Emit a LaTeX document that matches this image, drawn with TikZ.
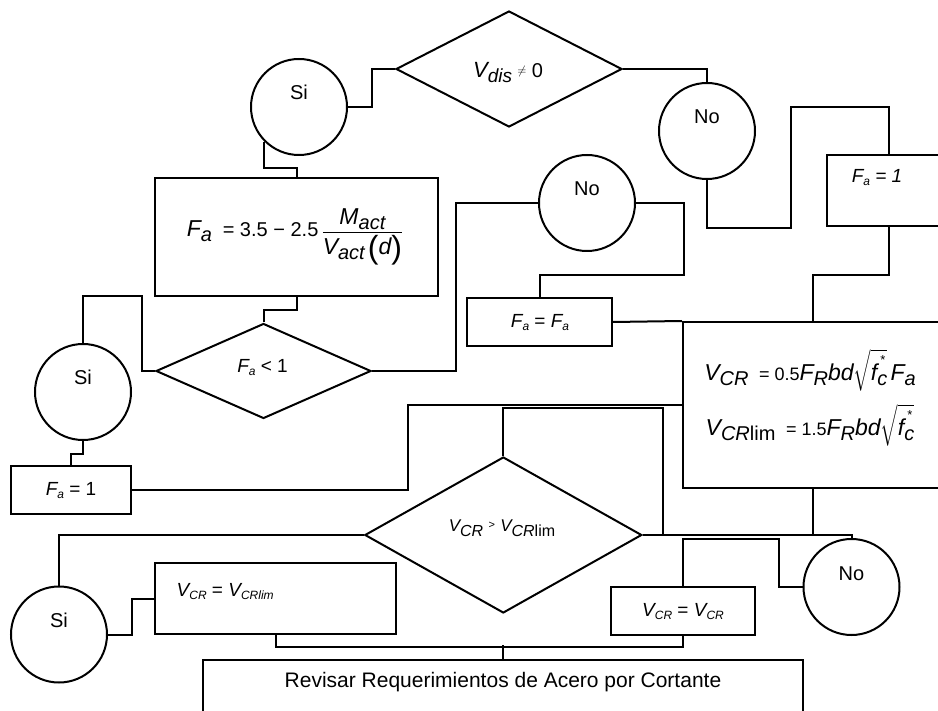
\documentclass[tikz,border=0pt]{standalone}
\usepackage{amsmath}
\usepackage{fontspec}
\setmainfont{Liberation Sans}
\usetikzlibrary{shapes.geometric}
% big variable with big lowered subscript
\newcommand\bigv[2]{{\fontsize{23}{26}\selectfont\itshape #1}\raisebox{-5pt}{\fontsize{20}{22}\selectfont\itshape #2}}
% small variable with small subscript
\newcommand\smv[2]{{\fontsize{19}{22}\selectfont\itshape #1}\raisebox{-3pt}{\fontsize{12}{14}\selectfont\itshape #2}}
\newcommand\numf{\fontsize{18}{20}\selectfont}
\newcommand\fcstar{$\sqrt{\hbox{{\fontsize{23}{26}\selectfont\itshape f}\raisebox{-5pt}{\fontsize{20}{22}\selectfont\itshape c}\llap{\raisebox{16pt}{\fontsize{13}{14}\selectfont *}\hspace{2pt}}}}$}
\newcommand\bpar[1]{\raisebox{-4pt}{\fontsize{32}{34}\selectfont #1}}
\tikzset{
  ln/.style={line width=2pt},
  circ/.style={draw, circle, line width=2pt, minimum size=96pt, inner sep=0pt, font=\fontsize{20}{24}\selectfont},
  dia/.style={draw, diamond, line width=2pt, inner sep=0pt},
  box/.style={draw, rectangle, line width=2pt, inner sep=0pt},
  txt/.style={inner sep=0pt, font=\fontsize{19}{22}\selectfont}
}
\begin{document}
\begin{tikzpicture}[x=1pt,y=-1pt]
\useasboundingbox (0,0) rectangle (938,711);
\clip (0,0) rectangle (938,711);
% circles
\node[circ] (c1) at (299,107) {\raisebox{7pt}[0pt][0pt]{Si}};
\node[circ] (c2) at (707,131) {\raisebox{7pt}[0pt][0pt]{No}};
\node[circ] (c3) at (587,203) {\raisebox{7pt}[0pt][0pt]{No}};
\node[circ] (c4) at (83,392) {\raisebox{7pt}[0pt][0pt]{Si}};
\node[circ] (c5) at (59,634.5) {\raisebox{7pt}[0pt][0pt]{Si}};
\node[circ] (c6) at (851.5,587) {\raisebox{7pt}[0pt][0pt]{No}};
% diamonds
\node[dia, minimum width=226pt, minimum height=116pt] (d1) at (509,69) {};
\node[dia, minimum width=215pt, minimum height=95pt] (d2) at (263.5,371) {};
\node[dia, minimum width=277pt, minimum height=156pt] (d3) at (503.3,535) {};
% boxes
\node[box, minimum width=283pt, minimum height=118pt] (b1) at (296.5,237) {};
\node[box, minimum width=123pt, minimum height=71pt] (b2) at (888.5,190.5) {};
\node[box, minimum width=145pt, minimum height=48pt] (b3) at (539.5,322) {};
\node[box, minimum width=260pt, minimum height=165.7pt] (b4) at (813,404.85) {};
\node[box, minimum width=120pt, minimum height=48pt] (b5) at (71,490) {};
\node[box, minimum width=241pt, minimum height=71pt] (b6) at (275.5,598.5) {};
\node[box, minimum width=144pt, minimum height=48pt] (b7) at (683,611) {};
\node[box, minimum width=600pt, minimum height=100pt] (b8) at (503.3,710) {};
% texts
\node[txt] (t1) at (508,73) {{\fontsize{22}{24}\selectfont\itshape V}\raisebox{-5pt}{\fontsize{19}{22}\selectfont\itshape dis}\ \raisebox{3pt}{\fontsize{13}{14}\selectfont $\neq$}\ {\fontsize{20}{22}\selectfont 0}};
\node[txt] (t2) at (295,237) {\bigv{F}{a}\ {\fontsize{20}{22}\selectfont\ =\ 3.5\ −\ 2.5}\,${\displaystyle\frac{\hbox{\bigv{M}{act}}}{\hbox{\bigv{V}{act}\,\bpar{(}{\fontsize{23}{26}\selectfont\itshape d}\bpar{)}}}}$};
\node[txt] (t3) at (262.5,368) {\smv{F}{a} < 1};
\node[txt] (t4) at (877,178) {\smv{F}{a}{\fontsize{19}{22}\selectfont\itshape\ = 1}};
\node[txt] (t5) at (540,323) {\smv{F}{a}\ =\ \smv{F}{a}};
\node[txt] (t6) at (71,491) {\smv{F}{a}\ = 1};
\node[txt] (t7) at (810,370) {\bigv{V}{CR}\ \ {\numf =\ 0.5}\bigv{F}{R}{\fontsize{23}{26}\selectfont\itshape bd}\fcstar\,\bigv{F}{a}};
\node[txt] (t8) at (810,425) {\bigv{V}{CR}\raisebox{-5pt}{\fontsize{20}{22}\selectfont lim}\ \ {\numf =\ 1.5}\bigv{F}{R}{\fontsize{23}{26}\selectfont\itshape bd}\fcstar};
\node[txt] (t9) at (502,528) {{\fontsize{17}{20}\selectfont\itshape V}\raisebox{-5pt}{\fontsize{16}{18}\selectfont\itshape CR}\ \raisebox{3pt}{\fontsize{11}{12}\selectfont >}\ {\fontsize{17}{20}\selectfont\itshape V}\raisebox{-5pt}{\fontsize{16}{18}\selectfont\itshape CR\upshape lim}};
\node[txt, anchor=west] (t10) at (176.5,592) {\smv{V}{CR}\ =\ \smv{V}{CRlim}};
\node[txt] (t11) at (683,612) {\smv{V}{CR}\ =\ \smv{V}{CR}};
\node[txt, font=\fontsize{21}{24}\selectfont] (t12) at (503,682) {Revisar Requerimientos de Acero por Cortante};
\coordinate (j1) at (662.5,535);
% connectors
\draw[ln] (c1.east) -- ++(24,0) |- (d1.west);
\draw[ln] (d1.east) -| (c2.north);
\draw[ln] (c1.225) -- ++(0,26) -| (b1.north);
\draw[ln] (b1.south) -- ++(0,13) -| (d2.north);
\draw[ln] (d2.west) -- ++(-13,0) -- ++(0,-75.3) -| (c4.north);
\draw[ln] (c4.south) -- ++(0,13) -| (b5.north);
\draw[ln] (d2.east) -- ++(84,0) |- (c3.west);
\draw[ln] (c3.east) -- ++(48,0) -- ++(0,72) -| (b3.north);
\draw[ln] (c2.south) -- ++(0,47.7) -- ++(84,0) -- ++(0,-120.7) -| (b2.north);
\draw[ln] (b2.south) -- ++(0,48) -| (b4.north);
\draw[ln] (b3.east) -- (b4.north west);
\draw[ln] (b5.east) -- ++(276,0) |- (b4.west);
\draw[ln] (d3.north) -- ++(0,-48) -| (j1);
\draw[ln] (d3.east) -| (c6.north);
\draw[ln] (b4.south) -- (b4.south |- d3.east);
\draw[ln] (c6.west) -- ++(-24,0) -- ++(0,-48) -| (b7.north);
\draw[ln] (d3.west) -| (c5.north);
\draw[ln] (c5.east) -- ++(23.5,0) |- (b6.west);
\draw[ln] (b6.south) -- ++(0,12) -| (b7.south);
\draw[ln] (b8.north) -- ++(0,-14);
\end{tikzpicture}
\end{document}
